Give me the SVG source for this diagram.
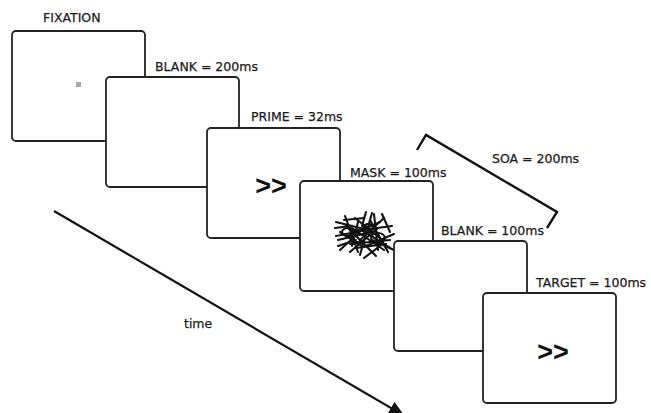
<svg xmlns="http://www.w3.org/2000/svg" width="651" height="413" viewBox="0 0 651 413">
<style>
.box{fill:#fff;stroke:#222;stroke-width:1.8}
.lbl{font-family:"DejaVu Sans",Verdana,sans-serif;font-size:12.5px;fill:#1a1a1a;stroke:#1a1a1a;stroke-width:0.25}
.chev{font-family:"Liberation Sans",Arial,sans-serif;font-weight:bold;font-size:27px;fill:#111;text-anchor:middle}
.mask line{stroke:#111;stroke-width:2.1;stroke-linecap:round}
.mask ellipse{fill:none;stroke:#111;stroke-width:2}
.conn{stroke:#111;fill:none}
</style>
<defs>
<marker id="ah" markerUnits="userSpaceOnUse" markerWidth="16" markerHeight="14" refX="14" refY="7" orient="auto">
<path d="M0,0 L16,7 L0,14 z" fill="#111"/>
</marker>
</defs>
<rect width="651" height="413" fill="#fff"/>
<g id="connectors">
<line class="conn" x1="54" y1="211" x2="403" y2="415" stroke-width="2.2" marker-end="url(#ah)"/>
<polyline class="conn" points="417,150 426,135 557,212 547,228" stroke-width="2.4"/>
</g>
<g id="fixation">
<text class="lbl" x="43" y="22" font-size="13" stroke-width="0.45">FIXATION</text>
<rect class="box" x="12" y="31" width="133" height="110" rx="4"/>
<rect x="76" y="82" width="5" height="5" fill="#a8a8a8"/>
</g>
<g id="blank1">
<text class="lbl" x="155" y="71">BLANK = 200ms</text>
<rect class="box" x="106" y="77" width="133" height="110" rx="4"/>
</g>
<g id="prime">
<text class="lbl" x="251" y="121">PRIME = 32ms</text>
<rect class="box" x="207" y="128" width="133" height="110" rx="4"/>
<text class="chev" x="271" y="195">&gt;&gt;</text>
</g>
<g id="mask">
<text class="lbl" x="350" y="177">MASK = 100ms</text>
<rect class="box" x="300" y="181" width="133" height="110" rx="4"/>
<g class="mask">
<line x1="336" y1="222" x2="368" y2="230"/>
<line x1="338" y1="240" x2="372" y2="232"/>
<line x1="340" y1="250" x2="366" y2="226"/>
<line x1="345" y1="216" x2="358" y2="252"/>
<line x1="350" y1="244" x2="390" y2="240"/>
<line x1="352" y1="228" x2="384" y2="250"/>
<line x1="355" y1="218" x2="380" y2="238"/>
<line x1="360" y1="255" x2="372" y2="213"/>
<line x1="362" y1="230" x2="392" y2="226"/>
<line x1="366" y1="246" x2="394" y2="234"/>
<line x1="370" y1="220" x2="388" y2="252"/>
<line x1="374" y1="214" x2="378" y2="250"/>
<line x1="340" y1="232" x2="362" y2="246"/>
<line x1="348" y1="236" x2="380" y2="222"/>
<line x1="356" y1="248" x2="386" y2="244"/>
<line x1="384" y1="218" x2="360" y2="240"/>
<line x1="390" y1="248" x2="368" y2="234"/>
<line x1="346" y1="226" x2="376" y2="256"/>
<line x1="372" y1="240" x2="394" y2="250"/>
<line x1="358" y1="222" x2="352" y2="246"/>
<line x1="378" y1="228" x2="350" y2="252"/>
<line x1="336" y1="236" x2="356" y2="232"/>
<line x1="344" y1="220" x2="364" y2="218"/>
<line x1="335" y1="228" x2="350" y2="226"/>
<line x1="338" y1="246" x2="356" y2="240"/>
<line x1="364" y1="258" x2="380" y2="246"/>
<line x1="382" y1="214" x2="390" y2="232"/>
<line x1="366" y1="212" x2="362" y2="226"/>
<ellipse cx="358" cy="236" rx="8" ry="6"/>
<ellipse cx="378" cy="238" rx="7" ry="5"/>
<ellipse cx="368" cy="228" rx="5" ry="4"/>
<ellipse cx="348" cy="232" rx="6" ry="4"/>
</g>
</g>
<g id="blank2">
<text class="lbl" x="441" y="235">BLANK = 100ms</text>
<rect class="box" x="394" y="241" width="133" height="110" rx="4"/>
</g>
<g id="target">
<text class="lbl" x="536" y="287">TARGET = 100ms</text>
<rect class="box" x="483" y="293" width="133" height="110" rx="4"/>
<text class="chev" x="553" y="361">&gt;&gt;</text>
</g>
<text class="lbl" x="492" y="163">SOA = 200ms</text>
<text class="lbl" x="184" y="328" font-size="14">time</text>
</svg>
